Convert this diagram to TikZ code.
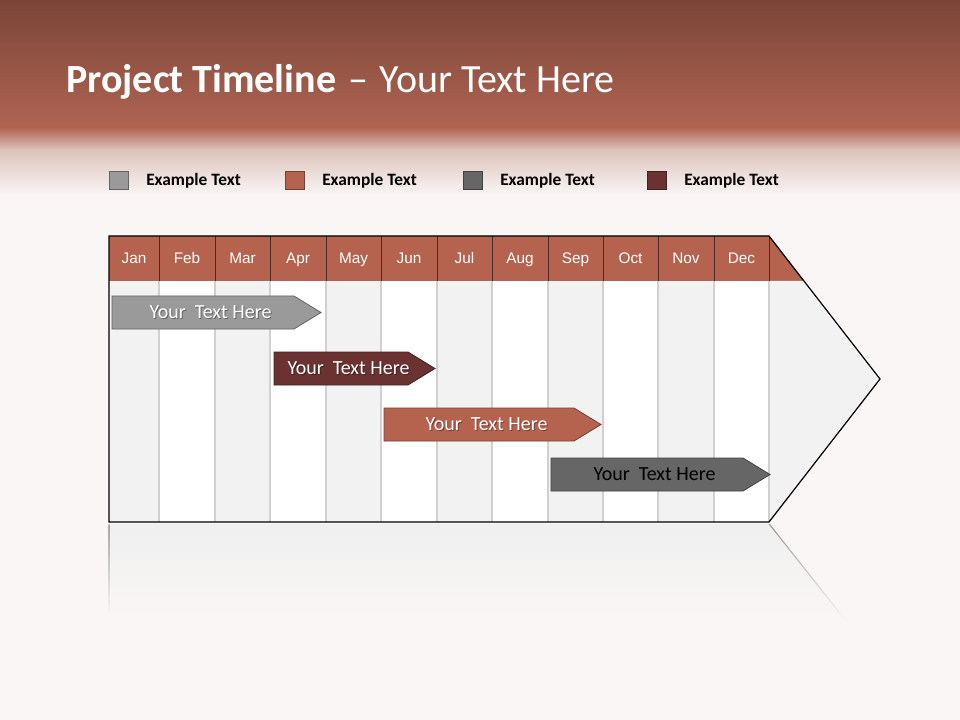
\documentclass[tikz,border=0pt]{standalone}
\usepackage{fontspec}
\setmainfont{Carlito}
\newfontfamily\monthfont{Liberation Sans}
\definecolor{bandtop}{HTML}{7A4538}
\definecolor{bandlow}{HTML}{B06452}
\definecolor{bandmid}{HTML}{DCC2BB}
\definecolor{pagebg}{HTML}{FAF6F5}
\definecolor{terra}{HTML}{B5634F}
\definecolor{maroon}{HTML}{6B3232}
\definecolor{midgray}{HTML}{9A9A9A}
\definecolor{darkgray}{HTML}{666666}
\definecolor{colgray}{HTML}{F2F2F2}
\definecolor{sepgray}{HTML}{D0D0D0}
\definecolor{hdrline}{HTML}{4A2A22}

\begin{document}
\begin{tikzpicture}[x=0.75pt,y=-0.75pt,
	month/.style={anchor=base,inner sep=0pt,text=white,font=\monthfont\fontsize{11.5}{13}\selectfont},
	bartext/.style={font=\fontsize{15}{18}\selectfont,inner sep=0pt},
	keytext/.style={anchor=west,inner sep=0pt,font=\bfseries\fontsize{13}{15}\selectfont}]
\useasboundingbox (0,0) rectangle (960,720);
\fill[pagebg] (0,0) rectangle (960,720);
% title band
\shade[top color=bandtop,bottom color=bandlow] (0,0) rectangle (960,128);
\shade[top color=bandlow,bottom color=bandmid] (0,127.5) rectangle (960,150);
\shade[top color=bandmid,bottom color=pagebg] (0,149.5) rectangle (960,195);
\node[anchor=base west,inner sep=0pt,text=white,font=\fontsize{30}{34}\selectfont] (title) at (66,93)
	{\textbf{Project Timeline}\kern2pt{} – \kern2pt Your Text Here};
% legend
\foreach \x/\c [count=\i] in {109/midgray,285/terra,463/darkgray,647/maroon} {
		\filldraw[fill=\c,draw=\c!65!black,line width=0.6pt] (\x,171) rectangle ++(19,18);
		\node[keytext] (key\i) at (\x+37,181) {Example Text};}
% reflection
\shade[top color=black!6,bottom color=pagebg] (109,524) -- (769,524) -- (845,620) -- (109,620) -- cycle;
\shade[top color=black!35,bottom color=pagebg] (108.5,524) rectangle (109.5,615);
\shade[top color=black!40,bottom color=pagebg] (768.5,524) -- (770,524) -- (846,620) -- (844.5,620) -- cycle;
% header and columns
\fill[terra] (109,236) -- (769,236) -- (804,281) -- (109,281) -- cycle;
\fill[colgray] (769,281) -- (804,281) -- (880,379) -- (769,522) -- cycle;
\foreach \a/\b/\c in {109/159/colgray,159/215/white,215/270/colgray,270/326/white,326/381/colgray,
		381/437/white,437/492/colgray,492/548/white,548/603/colgray,603/658/white,658/714/colgray,714/769/white}
		\fill[\c] (\a,281) rectangle (\b,522);
\foreach \a/\b/\m [count=\i] in {109/159/Jan,159/215/Feb,215/270/Mar,270/326/Apr,326/381/May,381/437/Jun,
		437/492/Jul,492/548/Aug,548/603/Sep,603/658/Oct,658/714/Nov,714/769/Dec} {
		\draw[sepgray,line width=0.8pt] (\b,281) -- (\b,522);
		\draw[hdrline,line width=0.7pt] (\b,236) -- (\b,281);
		\node[month] (m\i) at ({(\a+\b)/2},264) {\m};}
\draw[line width=0.9pt] (109,236) -- (769,236) -- (880,379) -- (769,522) -- (109,522) -- cycle;
% bars
\foreach \l/\t/\y/\c/\tc/\s [count=\i] in {112/321/296/midgray/white/0.35,274/435/352/maroon/white/0.35,
		384/601/408/terra/white/0.35,551/770/458/darkgray/black/0} {
		\filldraw[fill=\c,draw=\c!65!black,line width=0.6pt]
			(\l,\y) -- (\t-27,\y) -- (\t,\y+16.5) -- (\t-27,\y+33) -- (\l,\y+33) -- cycle;
		\node[bartext,text=black,opacity=\s] (shadow\i) at ({(\l+\t)/2-5},\y+17.5) {Your\ \ Text Here};
		\node[bartext,text=\tc] (bar\i) at ({(\l+\t)/2-6},\y+16.5) {Your\ \ Text Here};}
\end{tikzpicture}
\end{document}
